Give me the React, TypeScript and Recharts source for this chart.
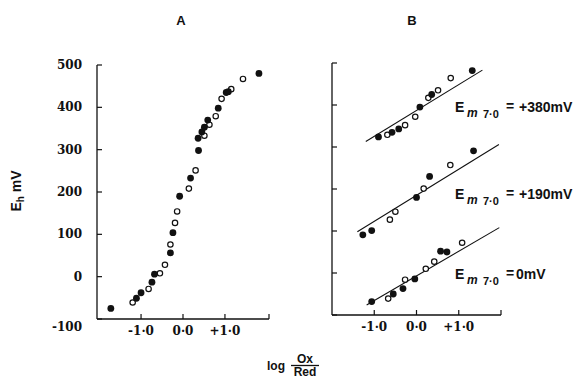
import React from "react";
import { ScatterChart, Scatter, XAxis, YAxis, ReferenceLine } from "recharts";

// Panel A: Eh vs log(Ox/Red), filled and open points
const aFilled = [
  { x: -1.72, y: -75 }, { x: -1.11, y: -51 }, { x: -1.0, y: -38 }, { x: -0.74, y: -13 },
  { x: -0.68, y: 6 }, { x: -0.3, y: 56 }, { x: -0.24, y: 104 }, { x: -0.08, y: 190 },
  { x: 0.18, y: 233 }, { x: 0.37, y: 298 }, { x: 0.36, y: 327 }, { x: 0.45, y: 342 },
  { x: 0.51, y: 353 }, { x: 0.59, y: 370 }, { x: 0.84, y: 398 }, { x: 1.03, y: 435 },
  { x: 1.08, y: 437 }, { x: 1.81, y: 480 },
];
const aOpen = [
  { x: -1.2, y: -61 }, { x: -0.82, y: -29 }, { x: -0.55, y: 8 }, { x: -0.43, y: 28 },
  { x: -0.3, y: 76 }, { x: -0.19, y: 127 }, { x: -0.14, y: 154 }, { x: 0.14, y: 208 },
  { x: 0.3, y: 251 }, { x: 0.51, y: 333 }, { x: 0.63, y: 359 }, { x: 0.78, y: 379 },
  { x: 0.92, y: 420 }, { x: 1.15, y: 443 }, { x: 1.43, y: 467 },
];

// Panel B: three components, offset vertically
const bHighFilled = [
  { x: -0.9, y: 324 }, { x: -0.58, y: 335 }, { x: -0.42, y: 343 },
  { x: 0.08, y: 395 }, { x: 0.36, y: 425 }, { x: 1.32, y: 482 },
];
const bHighOpen = [
  { x: -0.69, y: 329 }, { x: -0.27, y: 352 }, { x: -0.03, y: 372 },
  { x: 0.28, y: 417 }, { x: 0.51, y: 435 }, { x: 0.81, y: 464 },
];
const bMidFilled = [
  { x: -1.27, y: 91 }, { x: -1.06, y: 101 }, { x: 0.0, y: 180 }, { x: 0.31, y: 230 }, { x: 1.35, y: 291 },
];
const bMidOpen = [
  { x: -0.63, y: 127 }, { x: -0.5, y: 146 }, { x: 0.17, y: 201 }, { x: 0.8, y: 257 },
];
const bLowFilled = [
  { x: -1.06, y: -68 }, { x: -0.55, y: -50 }, { x: -0.32, y: -37 },
  { x: -0.04, y: -14 }, { x: 0.57, y: 52 }, { x: 0.72, y: 50 },
];
const bLowOpen = [
  { x: -0.67, y: -61 }, { x: -0.27, y: -16 }, { x: 0.22, y: 10 }, { x: 0.42, y: 27 }, { x: 1.08, y: 72 },
];

// fitted lines in panel B (end points)
const bLines = [
  [{ x: -1.2, y: 313 }, { x: 1.56, y: 483 }],
  [{ x: -1.4, y: 98 }, { x: 1.95, y: 306 }],
  [{ x: -1.18, y: -76 }, { x: 1.96, y: 108 }],
];
const emLabels = ["+380mV", "+190mV", "0mV"];

const yTicks = [-100, 0, 100, 200, 300, 400, 500];
const xTicksA = [-1, 0, 1, 2.05];
const xTicksB = [-1, 0, 1, 2];
const xTickLabels: Record<string, string> = { "-1": "-1·0", "0": "0·0", "1": "+1·0" };

const INK = "#111";
const SANS = "'Liberation Sans', Arial, sans-serif";
const SERIF = "'DejaVu Serif', serif";

const Filled = (p: any) => <circle cx={p.cx} cy={p.cy} r={3.4} fill={INK} />;
const Open = (p: any) => <circle cx={p.cx} cy={p.cy} r={2.7} fill="#fff" stroke={INK} strokeWidth={1.2} />;

function YTick({ x, y, payload, showLabel }: any) {
  const v = payload.value;
  return (
    <g>
      <line x1={x} x2={x + 5} y1={y} y2={y} stroke={INK} strokeWidth={1.2} />
      {showLabel && (
        <text
          x={x - 15}
          y={y}
          dy={v === -100 ? 12 : 4}
          textAnchor="end"
          fontFamily={SERIF}
          fontWeight="bold"
          fontSize={12}
          fill={INK}
        >
          {v}
        </text>
      )}
    </g>
  );
}

function XTick({ x, y, payload }: any) {
  const label = xTickLabels[String(payload.value)] ?? "";
  return (
    <g>
      <line x1={x} x2={x} y1={y} y2={y - 5} stroke={INK} strokeWidth={1.2} />
      <text x={x} y={y} dy={16} textAnchor="middle" fontFamily={SERIF} fontWeight="bold" fontSize={12} fill={INK}>
        {label}
      </text>
    </g>
  );
}

function EmLabel({ y, value }: { y: number; value: string }) {
  return (
    <g fontFamily={SANS} fontWeight="bold" fill={INK}>
      <text x={455} y={y} fontSize={14}>E</text>
      <text x={467} y={y + 5} fontSize={12} fontStyle="italic">m</text>
      <text x={483} y={y + 6} fontSize={11}>7·0</text>
      <text x={506} y={y - 1} fontSize={14}>=</text>
      <text x={value === "0mV" ? 516 : 519} y={y} fontSize={14}>{value}</text>
    </g>
  );
}

export default function App() {
  return (
    <div style={{ position: "absolute", left: 0, top: 0, width: 579, height: 378, background: "#fff", overflow: "hidden" }}>
      <div style={{ position: "absolute", left: 0, top: 0 }}>
        <ScatterChart width={300} height={378} margin={{ left: 57, right: 31, top: 65, bottom: 29 }}>
          <XAxis
            type="number"
            dataKey="x"
            domain={[-2.05, 2.05]}
            ticks={xTicksA}
            interval={0}
            tickSize={0}
            tickMargin={0}
            tickLine={false}
            axisLine={{ stroke: INK, strokeWidth: 1.3 }}
            tick={<XTick />}
            height={30}
            allowDataOverflow
          />
          <YAxis
            type="number"
            dataKey="y"
            domain={[-100, 500]}
            ticks={yTicks}
            interval={0}
            tickSize={0}
            tickMargin={0}
            tickLine={false}
            axisLine={{ stroke: INK, strokeWidth: 1.3 }}
            tick={<YTick showLabel />}
            width={40}
            allowDataOverflow
          />
          <Scatter data={aOpen} shape={Open} isAnimationActive={false} />
          <Scatter data={aFilled} shape={Filled} isAnimationActive={false} />
        </ScatterChart>
      </div>
      <div style={{ position: "absolute", left: 300, top: 0 }}>
        <ScatterChart width={279} height={378} margin={{ left: 12, right: 78, top: 63, bottom: 33 }}>
          <XAxis
            type="number"
            dataKey="x"
            domain={[-2, 2]}
            ticks={xTicksB}
            interval={0}
            tickSize={0}
            tickMargin={0}
            tickLine={false}
            axisLine={{ stroke: INK, strokeWidth: 1.3 }}
            tick={<XTick />}
            height={30}
            allowDataOverflow
          />
          <YAxis
            type="number"
            dataKey="y"
            domain={[-100, 500]}
            ticks={yTicks}
            interval={0}
            tickSize={0}
            tickMargin={0}
            tickLine={false}
            axisLine={{ stroke: INK, strokeWidth: 1.3 }}
            tick={<YTick showLabel={false} />}
            width={20}
            allowDataOverflow
          />
          {bLines.map((seg, i) => (
            <ReferenceLine key={i} segment={seg} stroke={INK} strokeWidth={1.1} ifOverflow="visible" />
          ))}
          <Scatter data={bHighOpen} shape={Open} isAnimationActive={false} />
          <Scatter data={bHighFilled} shape={Filled} isAnimationActive={false} />
          <Scatter data={bMidOpen} shape={Open} isAnimationActive={false} />
          <Scatter data={bMidFilled} shape={Filled} isAnimationActive={false} />
          <Scatter data={bLowOpen} shape={Open} isAnimationActive={false} />
          <Scatter data={bLowFilled} shape={Filled} isAnimationActive={false} />
        </ScatterChart>
      </div>
      <svg width={579} height={378} style={{ position: "absolute", left: 0, top: 0, pointerEvents: "none" }}>
        <g fontFamily={SANS} fontWeight="bold" fill={INK}>
          <text x={181} y={25} fontSize={13} textAnchor="middle">A</text>
          <text x={412} y={25} fontSize={13} textAnchor="middle">B</text>
          <text x={21} y={191} fontSize={14} textAnchor="middle" transform="rotate(-90 21 191)">
            E<tspan dy={3} fontSize={10}>h</tspan>
            <tspan dy={-3}>{"  mV"}</tspan>
          </text>
          <text x={267} y={370} fontSize={12}>log</text>
          <text x={305} y={363} fontSize={12} textAnchor="middle">Ox</text>
          <line x1={291} x2={319} y1={365.5} y2={365.5} stroke={INK} strokeWidth={1.3} />
          <text x={305} y={376} fontSize={12} textAnchor="middle">Red</text>
        </g>
        <EmLabel y={112} value={emLabels[0]} />
        <EmLabel y={199} value={emLabels[1]} />
        <EmLabel y={279} value={emLabels[2]} />
      </svg>
    </div>
  );
}
